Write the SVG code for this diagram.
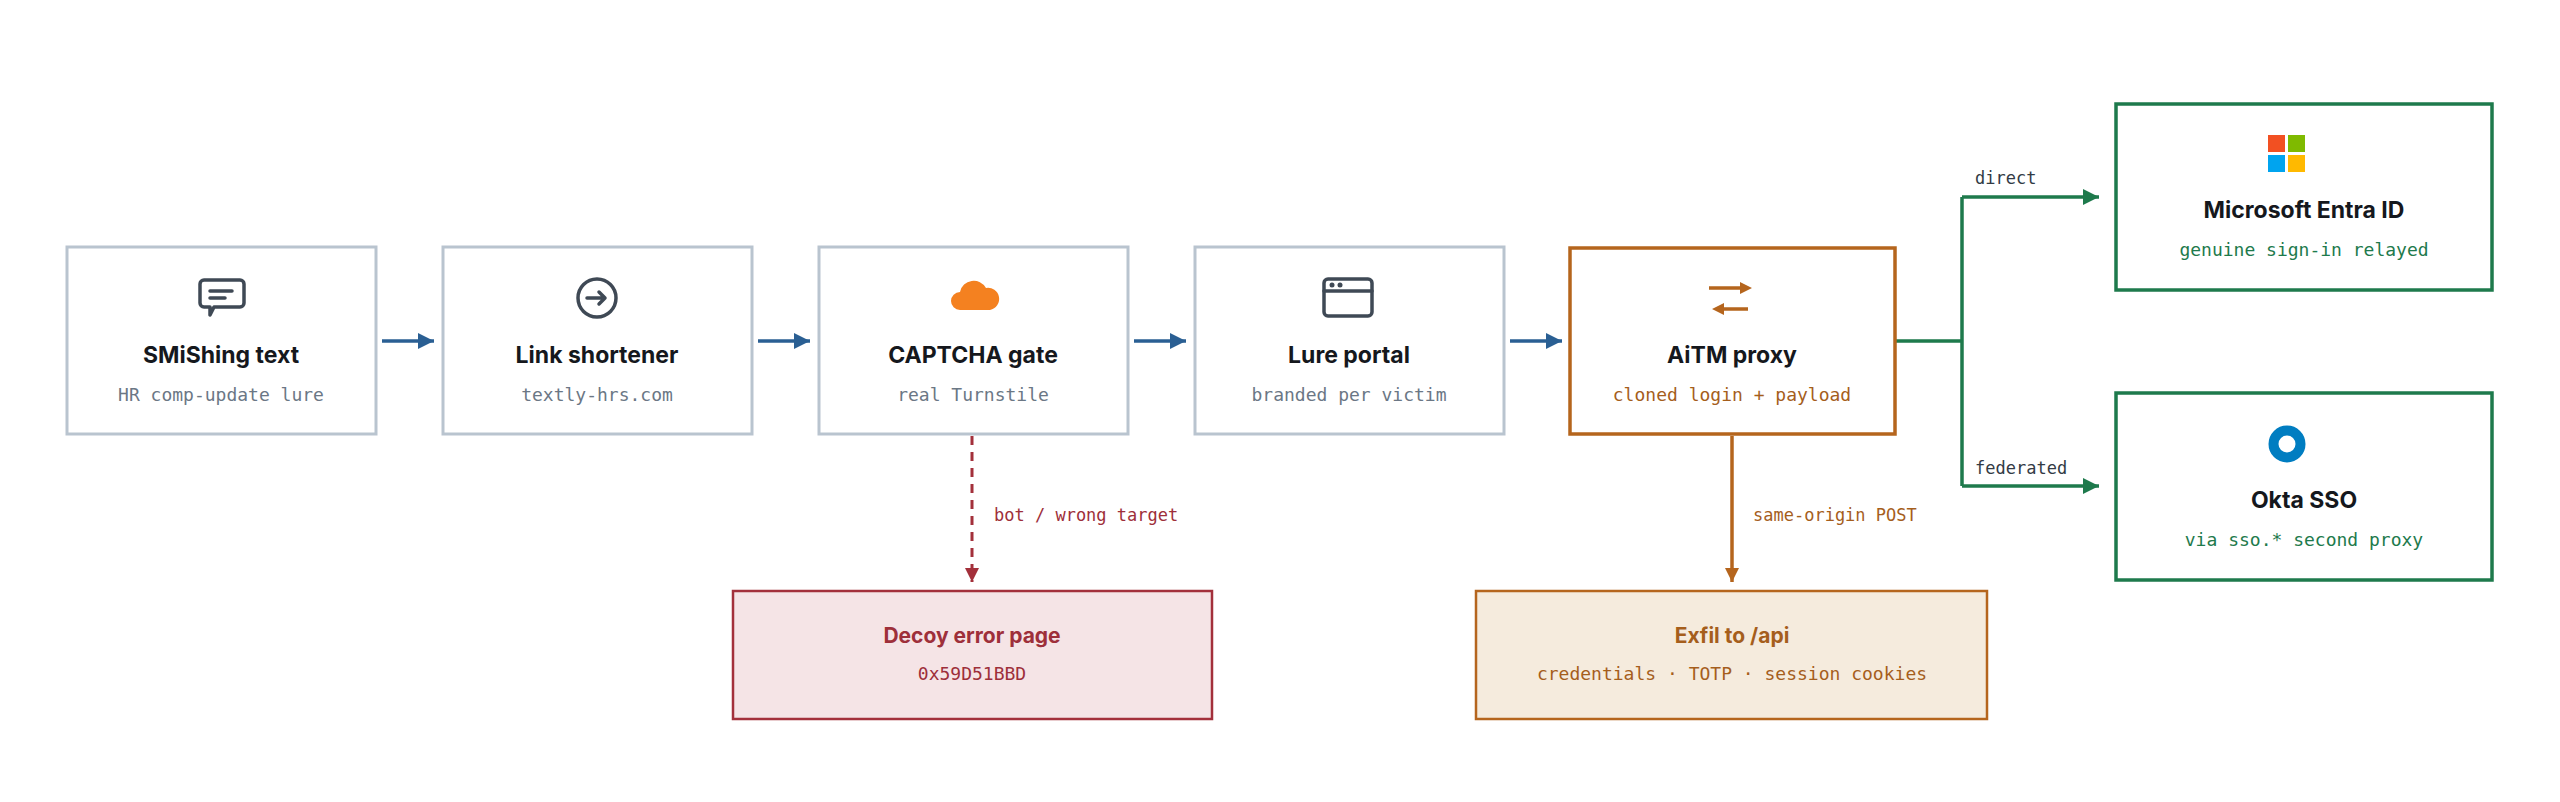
<svg xmlns="http://www.w3.org/2000/svg" width="2560" height="802" viewBox="0 0 2560 802">
<style>
.bx{fill:#fff;stroke:#b9c4cf;stroke-width:3}
.t{font-family:Inter,"Liberation Sans",sans-serif;font-weight:700;font-size:23px;fill:#15181d;text-anchor:middle}
.s{font-family:"DejaVu Sans Mono","Liberation Mono",monospace;font-size:18px;fill:#6b7785;text-anchor:middle}
.l{font-family:"DejaVu Sans Mono","Liberation Mono",monospace;font-size:17px}
.ic{fill:none;stroke:#3f4955;stroke-width:3.5;stroke-linejoin:round;stroke-linecap:round}
</style>
<defs>
<marker id="ab" viewBox="0 0 10 10" refX="10" refY="5" markerWidth="20" markerHeight="16" markerUnits="userSpaceOnUse" orient="auto"><path d="M0,0L10,5L0,10z" fill="#2a5f93"/></marker>
<marker id="ag" viewBox="0 0 10 10" refX="10" refY="5" markerWidth="20" markerHeight="16" markerUnits="userSpaceOnUse" orient="auto"><path d="M0,0L10,5L0,10z" fill="#1e7a4c"/></marker>
<marker id="ar" viewBox="0 0 10 10" refX="10" refY="5" markerWidth="18" markerHeight="14" markerUnits="userSpaceOnUse" orient="auto"><path d="M0,0L10,5L0,10z" fill="#a3303b"/></marker>
<marker id="ao" viewBox="0 0 10 10" refX="10" refY="5" markerWidth="18" markerHeight="14" markerUnits="userSpaceOnUse" orient="auto"><path d="M0,0L10,5L0,10z" fill="#b5651d"/></marker>
</defs>
<g id="connectors" fill="none">
<g stroke="#2a5f93" stroke-width="3.5">
<line x1="382" y1="341" x2="434" y2="341" marker-end="url(#ab)"/>
<line x1="758" y1="341" x2="810" y2="341" marker-end="url(#ab)"/>
<line x1="1134" y1="341" x2="1186" y2="341" marker-end="url(#ab)"/>
<line x1="1510" y1="341" x2="1562" y2="341" marker-end="url(#ab)"/>
</g>
<path d="M1896,341H1962M1962,197V486" stroke="#1e7a4c" stroke-width="3.5"/>
<path d="M1962,197H2099" stroke="#1e7a4c" stroke-width="3.5" marker-end="url(#ag)"/>
<path d="M1962,486H2099" stroke="#1e7a4c" stroke-width="3.5" marker-end="url(#ag)"/>
<path d="M972,436V582" stroke="#a3303b" stroke-width="3" stroke-dasharray="9,7" marker-end="url(#ar)"/>
<path d="M1732,436V582" stroke="#b5651d" stroke-width="3.5" marker-end="url(#ao)"/>
<text x="1975" y="184" class="l" fill="#333b45">direct</text>
<text x="1975" y="474" class="l" fill="#333b45">federated</text>
<text x="994" y="521" class="l" fill="#9e2f3a">bot / wrong target</text>
<text x="1753" y="521" class="l" fill="#a55e1c">same-origin POST</text>
</g>
<g id="smishing">
<rect class="bx" x="67" y="247" width="309" height="187"/>
<path class="ic" d="M204,280h36a4,4 0 0 1 4,4v19a4,4 0 0 1-4,4h-26l-4,8v-8h-6a4,4 0 0 1-4-4v-19a4,4 0 0 1 4-4z"/>
<path class="ic" d="M210,291h22M210,298h15"/>
<text class="t" x="221" y="363">SMiShing text</text>
<text class="s" x="221" y="401">HR comp-update lure</text>
</g>
<g id="shortener">
<rect class="bx" x="443" y="247" width="309" height="187"/>
<circle class="ic" cx="597" cy="298" r="19"/>
<path class="ic" d="M587,298h18M599,292l6,6-6,6"/>
<text class="t" x="597" y="363">Link shortener</text>
<text class="s" x="597" y="401">textly-hrs.com</text>
</g>
<g id="captcha">
<rect class="bx" x="819" y="247" width="309" height="187"/>
<path d="M960,310a9,9 0 0 1 0-18a14,14 0 0 1 26-4a11,11 0 0 1 4,22z" fill="#f48120"/>
<text class="t" x="973" y="363">CAPTCHA gate</text>
<text class="s" x="973" y="401">real Turnstile</text>
</g>
<g id="lure">
<rect class="bx" x="1195" y="247" width="309" height="187"/>
<rect class="ic" x="1324" y="279" width="48" height="37" rx="4"/>
<path class="ic" d="M1324,291h48"/>
<circle cx="1332" cy="285" r="2.5" fill="#3f4955"/><circle cx="1340" cy="285" r="2.5" fill="#3f4955"/>
<text class="t" x="1349" y="363">Lure portal</text>
<text class="s" x="1349" y="401">branded per victim</text>
</g>
<g id="aitm">
<rect x="1570" y="248" width="325" height="186" fill="#fff" stroke="#b5651d" stroke-width="3.5"/>
<path d="M1709,288h32M1716,309h32" stroke="#b5651d" stroke-width="3.5"/>
<path d="M1752,288l-12-6v12zM1712,309l12-6v12z" fill="#b5651d"/>
<text class="t" x="1732" y="363">AiTM proxy</text>
<text class="s" x="1732" y="401" style="fill:#a55e1c">cloned login + payload</text>
</g>
<g id="entra">
<rect x="2116" y="104" width="376" height="186" fill="#fff" stroke="#1e7a4c" stroke-width="3.5"/>
<rect x="2268" y="135" width="17" height="17" fill="#f25022"/><rect x="2288" y="135" width="17" height="17" fill="#7fba00"/>
<rect x="2268" y="155" width="17" height="17" fill="#00a4ef"/><rect x="2288" y="155" width="17" height="17" fill="#ffb900"/>
<text class="t" x="2304" y="218">Microsoft Entra ID</text>
<text class="s" x="2304" y="256" style="fill:#1e7a4c">genuine sign-in relayed</text>
</g>
<g id="okta">
<rect x="2116" y="393" width="376" height="187" fill="#fff" stroke="#1e7a4c" stroke-width="3.5"/>
<circle cx="2287" cy="444" r="13.5" fill="none" stroke="#007dc1" stroke-width="10"/>
<text class="t" x="2304" y="508">Okta SSO</text>
<text class="s" x="2304" y="546" style="fill:#1e7a4c">via sso.* second proxy</text>
</g>
<g id="decoy">
<rect x="733" y="591" width="479" height="128" fill="#f5e4e6" stroke="#a3303b" stroke-width="2.5"/>
<text class="t" x="972" y="643" style="fill:#9e2f3a;font-size:21px">Decoy error page</text>
<text class="s" x="972" y="680" style="fill:#9e2f3a">0x59D51BBD</text>
</g>
<g id="exfil">
<rect x="1476" y="591" width="511" height="128" fill="#f5ebdd" stroke="#b5651d" stroke-width="2.5"/>
<text class="t" x="1732" y="643" style="fill:#a55e1c;font-size:21px">Exfil to /api</text>
<text class="s" x="1732" y="680" style="fill:#a55e1c">credentials · TOTP · session cookies</text>
</g>
</svg>
